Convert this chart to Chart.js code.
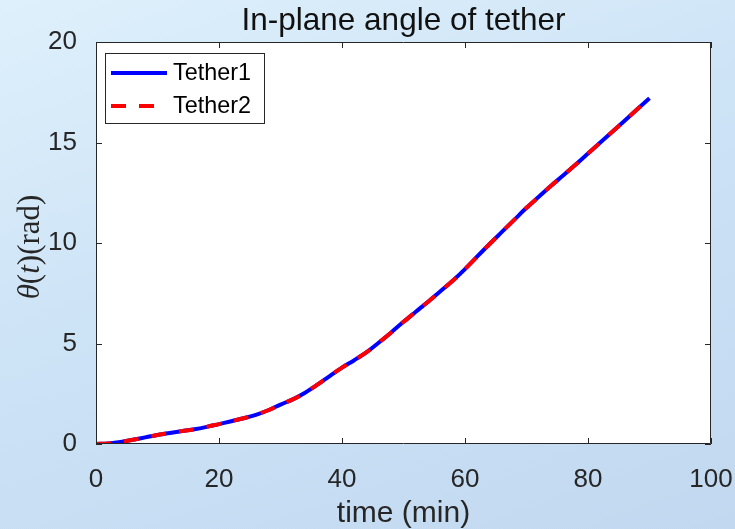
<!DOCTYPE html>
<html>
<head>
<meta charset="utf-8">
<script src="https://cdn.jsdelivr.net/npm/chart.js@4.4.1/dist/chart.umd.min.js"></script>
<style>
  html, body { margin: 0; padding: 0; }
  body {
    width: 735px; height: 529px; overflow: hidden;
    background: linear-gradient(160deg, #def0fb 0%, #cde3f6 45%, #c1d8f0 100%);
  }
  canvas { display: block; }
</style>
</head>
<body>
<canvas id="c" width="735" height="529"></canvas>
<script>
// time samples (min)
const timeMin = [0, 2, 4, 6, 8, 10, 12, 14, 16, 18, 20, 22, 24, 26, 28, 30, 32, 34, 36, 38,
  40, 42, 44, 46, 48, 50, 52, 54, 56, 58, 60, 62, 64, 66, 68, 70, 72, 74, 76, 78,
  80, 82, 84, 86, 88, 90];

// in-plane angle theta(t) in rad
const tether1 = [0, 0.03, 0.10, 0.21, 0.33, 0.45, 0.55, 0.64, 0.73, 0.85, 0.99, 1.13, 1.28, 1.45, 1.68, 1.96, 2.22, 2.55, 2.95, 3.38,
  3.80, 4.17, 4.57, 5.05, 5.55, 6.08, 6.58, 7.08, 7.60, 8.12, 8.70, 9.33, 9.95, 10.55, 11.15, 11.75, 12.30, 12.85, 13.37, 13.90,
  14.45, 15.00, 15.55, 16.10, 16.65, 17.20];
const tether2 = [0, 0.03, 0.10, 0.21, 0.33, 0.45, 0.55, 0.64, 0.73, 0.85, 0.99, 1.13, 1.28, 1.45, 1.68, 1.96, 2.22, 2.55, 2.95, 3.38,
  3.80, 4.17, 4.57, 5.05, 5.55, 6.08, 6.58, 7.08, 7.60, 8.12, 8.70, 9.33, 9.95, 10.55, 11.15, 11.75, 12.30, 12.85, 13.37, 13.90,
  14.45, 15.00, 15.55, 16.10, 16.65, 17.20];

const seriesNames = ['Tether1', 'Tether2'];
const xTicks = [0, 20, 40, 60, 80, 100];
const yTicks = [0, 5, 10, 15, 20];
const titleText = 'In-plane angle of tether';
const xLabel = 'time (min)';

const AXIS = '#262626';
const SANS = '"Liberation Sans", Arial, Helvetica, sans-serif';
const SERIF = '"Liberation Serif", "Times New Roman", serif';

const toPoints = (ys) => timeMin.map((t, i) => ({ x: t, y: ys[i] }));

// white axes background
const axesBackground = {
  id: 'axesBackground',
  beforeDraw(chart) {
    const { ctx, chartArea: a } = chart;
    ctx.save();
    ctx.fillStyle = '#ffffff';
    ctx.fillRect(a.left, a.top, a.right - a.left, a.bottom - a.top);
    ctx.restore();
  }
};

// box frame with inward ticks on all four sides, title, y label, legend
const axesDecor = {
  id: 'axesDecor',
  afterDraw(chart) {
    const { ctx, chartArea: a, scales } = chart;
    const xs = scales.x, ys = scales.y;
    const tl = 6;
    ctx.save();
    ctx.strokeStyle = AXIS;
    ctx.lineWidth = 1;
    ctx.beginPath();
    ctx.rect(a.left + 0.5, a.top + 0.5, a.right - a.left - 1, a.bottom - a.top - 1);
    xs.ticks.forEach(tk => {
      const px = Math.round(xs.getPixelForValue(tk.value)) + 0.5;
      ctx.moveTo(px, a.bottom); ctx.lineTo(px, a.bottom - tl);
      ctx.moveTo(px, a.top); ctx.lineTo(px, a.top + tl);
    });
    ys.ticks.forEach(tk => {
      const py = Math.round(ys.getPixelForValue(tk.value)) + 0.5;
      ctx.moveTo(a.left, py); ctx.lineTo(a.left + tl, py);
      ctx.moveTo(a.right, py); ctx.lineTo(a.right - tl, py);
    });
    ctx.stroke();

    // title
    ctx.fillStyle = '#111111';
    ctx.font = '31.5px ' + SANS;
    ctx.textAlign = 'center';
    ctx.textBaseline = 'middle';
    ctx.fillText(titleText, (a.left + a.right) / 2, 21);

    // y label: theta(t)(rad), italic symbols
    const parts = [
      { t: '\u03B8', f: 'italic 31px ' + SERIF },
      { t: '(', f: '31px ' + SERIF },
      { t: 't', f: 'italic 31px ' + SERIF },
      { t: ')(rad)', f: '31px ' + SERIF }
    ];
    let total = 0;
    parts.forEach(p => { ctx.font = p.f; p.w = ctx.measureText(p.t).width; total += p.w; });
    ctx.save();
    ctx.translate(31, 247);
    ctx.rotate(-Math.PI / 2);
    ctx.textAlign = 'left';
    ctx.textBaseline = 'middle';
    ctx.fillStyle = AXIS;
    let cx = -total / 2;
    parts.forEach(p => { ctx.font = p.f; ctx.fillText(p.t, cx, 0); cx += p.w; });
    ctx.restore();

    // legend box
    const lb = { x: 105.5, y: 53.5, w: 159, h: 70 };
    ctx.fillStyle = '#ffffff';
    ctx.fillRect(lb.x, lb.y, lb.w, lb.h);
    ctx.strokeStyle = AXIS;
    ctx.lineWidth = 1;
    ctx.strokeRect(lb.x, lb.y, lb.w, lb.h);
    const rows = [73, 106];
    chart.data.datasets.forEach((ds, i) => {
      const y = rows[i];
      ctx.strokeStyle = ds.borderColor;
      ctx.lineWidth = ds.borderWidth;
      ctx.setLineDash(ds.borderDash || []);
      ctx.beginPath();
      ctx.moveTo(111, y); ctx.lineTo(167, y);
      ctx.stroke();
      ctx.setLineDash([]);
      ctx.fillStyle = '#000000';
      ctx.font = '23.4px ' + SANS;
      ctx.textAlign = 'left';
      ctx.textBaseline = 'middle';
      ctx.fillText(ds.label, 173, y + 1);
    });
    ctx.restore();
  }
};

new Chart(document.getElementById('c'), {
  type: 'line',
  data: {
    datasets: [
      {
        label: seriesNames[0],
        data: toPoints(tether1),
        borderColor: '#0000ff',
        borderWidth: 4,
        pointRadius: 0,
        cubicInterpolationMode: 'monotone',
        order: 1
      },
      {
        label: seriesNames[1],
        data: toPoints(tether2),
        borderColor: '#ff0000',
        borderWidth: 4,
        borderDash: [15, 13],
        pointRadius: 0,
        cubicInterpolationMode: 'monotone',
        order: 0
      }
    ]
  },
  options: {
    responsive: false,
    animation: false,
    devicePixelRatio: 1,
    layout: { padding: { left: 0, right: 24, top: 42, bottom: 0 } },
    plugins: {
      legend: { display: false },
      title: { display: false },
      tooltip: { enabled: false }
    },
    scales: {
      x: {
        type: 'linear',
        min: 0, max: 100,
        afterBuildTicks(scale) { scale.ticks = xTicks.map(v => ({ value: v })); },
        afterFit(scale) {
          scale.height = 85;
          scale.paddingLeft = 0;
          scale.paddingRight = 0;
        },
        grid: { display: false },
        border: { display: false },
        ticks: {
          color: AXIS,
          padding: 12,
          maxRotation: 0,
          font: { family: SANS, size: 26 }
        },
        title: {
          display: true,
          text: xLabel,
          color: AXIS,
          padding: { top: 0, bottom: 0 },
          font: { family: SANS, size: 30, lineHeight: 1 }
        }
      },
      y: {
        type: 'linear',
        min: 0, max: 20,
        afterBuildTicks(scale) { scale.ticks = yTicks.map(v => ({ value: v })); },
        afterFit(scale) {
          scale.width = 96;
          scale.paddingTop = 0;
          scale.paddingBottom = 0;
        },
        grid: { display: false },
        border: { display: false },
        ticks: {
          color: AXIS,
          padding: 11,
          font: { family: SANS, size: 26 }
        }
      }
    }
  },
  plugins: [axesBackground, axesDecor]
});
</script>
</body>
</html>
